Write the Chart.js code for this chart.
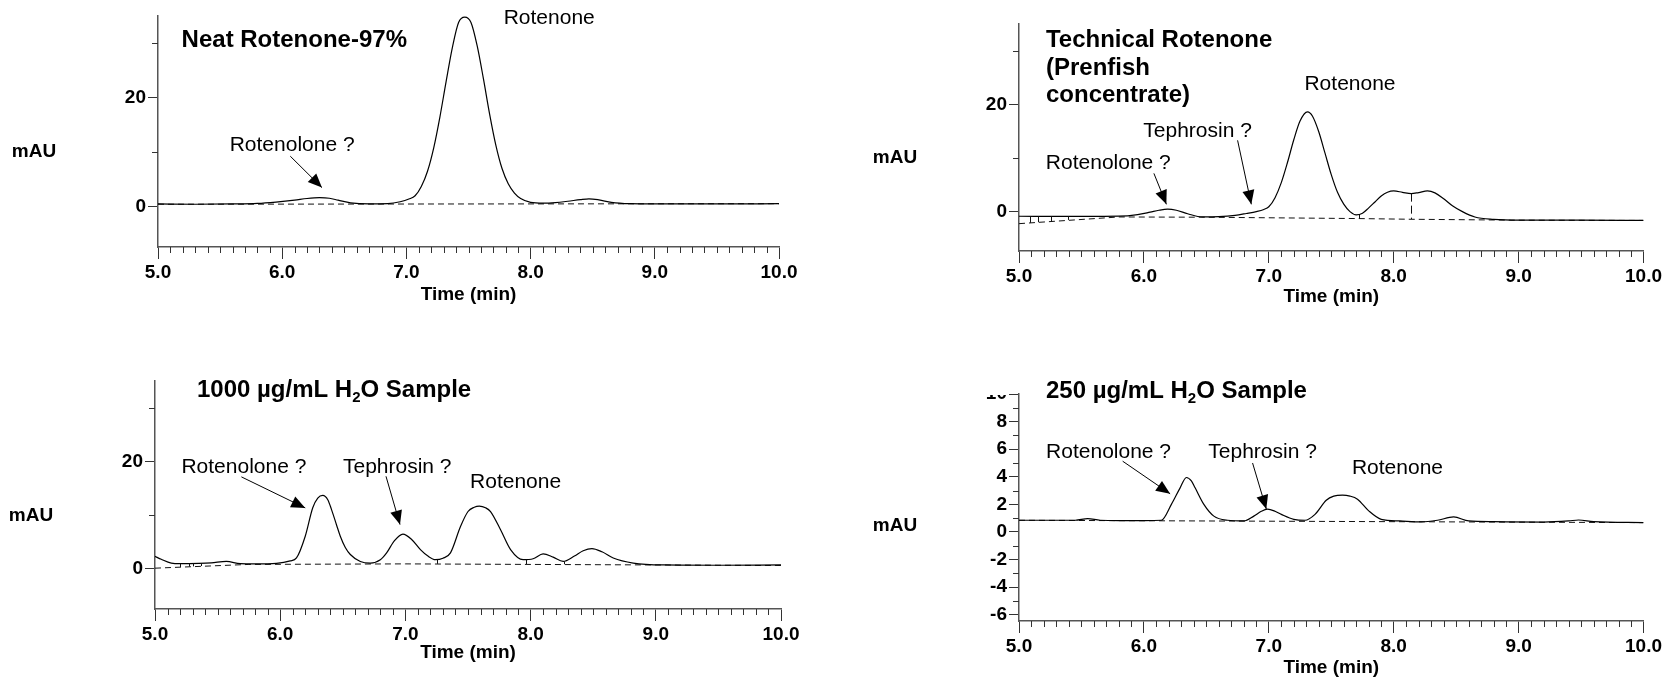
<!DOCTYPE html>
<html>
<head>
<meta charset="utf-8">
<title>Rotenone HPLC chromatograms</title>
<script src="https://cdn.jsdelivr.net/npm/chart.js@4.4.1/dist/chart.umd.min.js"></script>
<style>
  html, body { margin: 0; padding: 0; background: #fff; }
  #page { position: relative; width: 1664px; height: 678px; overflow: hidden; }
  canvas { position: absolute; }
</style>
</head>
<body>
<div id="page">
  <canvas id="neat" width="832" height="339" style="left:0;top:0"></canvas>
  <canvas id="tech" width="832" height="339" style="left:832px;top:0"></canvas>
  <canvas id="s1000" width="832" height="339" style="left:0;top:339px"></canvas>
  <canvas id="s250" width="832" height="339" style="left:832px;top:339px"></canvas>
</div>
<script>
// retention time (min) and absorbance (mAU)
const neatTime = [5.0, 5.3, 5.6, 5.8, 5.95, 6.1, 6.2, 6.3, 6.38, 6.45, 6.55, 6.7, 6.85, 6.95, 7.02, 7.07, 7.12, 7.17, 7.22, 7.27, 7.32, 7.37, 7.42, 7.47, 7.52, 7.57, 7.62, 7.67, 7.72, 7.77, 7.82, 7.87, 7.92, 8.0, 8.1, 8.2, 8.3, 8.4, 8.47, 8.55, 8.65, 8.8, 9.0, 9.5, 10.0];
const neatSignal = [0.5, 0.45, 0.5, 0.6, 0.85, 1.2, 1.5, 1.65, 1.55, 1.2, 0.7, 0.5, 0.55, 0.9, 1.4, 2.0, 3.7, 6.5, 10.8, 16.5, 23.0, 29.2, 33.8, 34.8, 33.8, 29.5, 23.5, 17.0, 11.3, 7.0, 4.2, 2.5, 1.5, 0.8, 0.65, 0.75, 1.0, 1.3, 1.45, 1.25, 0.8, 0.55, 0.5, 0.5, 0.55];
const neatBaseTime = [5.0, 10.0];
const neatBaseSignal = [0.45, 0.55];

const techTime = [5.0, 5.4, 5.8, 5.95, 6.05, 6.12, 6.19, 6.26, 6.35, 6.47, 6.6, 6.73, 6.82, 6.9, 6.96, 7.0, 7.05, 7.1, 7.15, 7.2, 7.25, 7.31, 7.35, 7.4, 7.45, 7.5, 7.55, 7.6, 7.65, 7.7, 7.75, 7.8, 7.85, 7.9, 7.95, 8.0, 8.07, 8.14, 8.2, 8.27, 8.33, 8.4, 8.47, 8.55, 8.65, 8.8, 9.0, 9.5, 10.0];
const techSignal = [-0.87, -0.9, -0.85, -0.55, -0.1, 0.25, 0.45, 0.25, -0.4, -1.0, -0.95, -0.7, -0.35, 0.0, 0.4, 0.9, 2.6, 5.4, 9.2, 13.4, 16.9, 18.6, 17.8, 14.9, 10.9, 6.9, 3.6, 1.4, 0.0, -0.6, -0.3, 0.7, 1.8, 2.9, 3.6, 3.85, 3.6, 3.35, 3.55, 3.85, 3.5, 2.4, 1.1, 0.0, -1.0, -1.45, -1.6, -1.6, -1.65];
const techBaseTime = [5.0, 5.8, 6.5, 7.72, 8.14, 9.0, 10.0];
const techBaseSignal = [-2.25, -1.0, -1.05, -1.3, -1.43, -1.6, -1.65];
const techDropTime = [5.09, 5.155, 5.255, 5.395, 7.72, 8.14];
const techDropTop = [-0.87, -0.87, -0.87, -0.87, -0.6, 3.35];
const techDropBottom = [-2.1, -1.98, -1.8, -1.55, -1.3, -1.43];

const s1000Time = [5.0, 5.05, 5.13, 5.2, 5.35, 5.45, 5.57, 5.68, 5.8, 5.97, 6.08, 6.13, 6.2, 6.26, 6.3, 6.34, 6.38, 6.41, 6.45, 6.48, 6.52, 6.56, 6.64, 6.72, 6.8, 6.85, 6.91, 6.98, 7.05, 7.12, 7.18, 7.24, 7.3, 7.36, 7.44, 7.5, 7.55, 7.59, 7.64, 7.68, 7.76, 7.84, 7.94, 8.02, 8.1, 8.18, 8.26, 8.35, 8.42, 8.49, 8.57, 8.66, 8.82, 9.06, 9.5, 10.0];
const s1000Signal = [2.35, 1.8, 1.1, 1.0, 1.05, 1.15, 1.4, 1.0, 0.95, 1.05, 1.5, 2.05, 6.1, 11.4, 13.2, 13.7, 12.9, 11.05, 8.2, 6.1, 4.0, 2.7, 1.4, 1.1, 1.73, 3.0, 5.2, 6.5, 5.5, 3.6, 2.4, 1.73, 2.0, 3.0, 7.9, 10.7, 11.5, 11.7, 11.4, 10.7, 7.3, 3.6, 1.73, 1.9, 2.8, 2.2, 1.4, 2.4, 3.4, 3.8, 3.2, 2.05, 1.1, 0.75, 0.7, 0.75];
const s1000BaseTime = [5.0, 5.75, 7.0, 10.0];
const s1000BaseSignal = [0.15, 0.85, 0.95, 0.65];
const s1000DropTime = [5.2, 5.27, 5.3, 5.37, 7.25, 7.96, 8.27];
const s1000DropTop = [1.0, 1.0, 1.05, 1.05, 1.73, 1.75, 1.4];
const s1000DropBottom = [0.35, 0.45, 0.48, 0.55, 0.95, 0.9, 0.88];

const s250Time = [5.0, 5.3, 5.45, 5.55, 5.65, 5.8, 6.0, 6.14, 6.22, 6.29, 6.34, 6.38, 6.41, 6.48, 6.56, 6.67, 6.8, 6.88, 6.94, 6.99, 7.05, 7.1, 7.2, 7.29, 7.37, 7.46, 7.52, 7.59, 7.65, 7.71, 7.8, 7.9, 8.05, 8.22, 8.35, 8.48, 8.6, 8.8, 9.2, 9.4, 9.48, 9.6, 10.0];
const s250Signal = [0.85, 0.85, 0.85, 0.97, 0.85, 0.83, 0.83, 0.85, 2.0, 3.2, 3.95, 3.7, 3.2, 2.0, 1.15, 0.85, 0.8, 1.15, 1.5, 1.65, 1.5, 1.28, 0.92, 0.85, 1.28, 2.3, 2.6, 2.67, 2.6, 2.38, 1.53, 0.92, 0.8, 0.73, 0.85, 1.09, 0.8, 0.75, 0.72, 0.8, 0.87, 0.75, 0.68];
const s250BaseTime = [5.0, 10.0];
const s250BaseSignal = [0.85, 0.68];

// axis ticks
const tallTicks = [0, 10, 20, 30];
const tallLabels = [0, 20];
const shortTicks = [-6, -5, -4, -3, -2, -1, 0, 1, 2, 3, 4, 5, 6, 7, 8, 9, 10];
const shortLabels = [-6, -4, -2, 0, 2, 4, 6, 8, 10];

// titles and peak labels
const neatTitle = ['Neat Rotenone-97%'];
const techTitle = ['Technical Rotenone', '(Prenfish', 'concentrate)'];
const s1000Title = ['1000 µg/mL H₂O Sample'];
const s250Title = ['250 µg/mL H₂O Sample'];

const neatNotes = [
  { text: 'Rotenone', at: [8.15, 34.6] },
  { text: 'Rotenolone ?', at: [6.08, 11.2], from: [6.065, 9.27], to: [6.32, 3.5] },
];
const techNotes = [
  { text: 'Rotenone', at: [7.65, 23.8] },
  { text: 'Tephrosin ?', at: [6.43, 14.95], from: [6.75, 13.3], to: [6.86, 1.36] },
  { text: 'Rotenolone ?', at: [5.715, 9.0], from: [6.08, 7.13], to: [6.18, 1.36] },
];
const s1000Notes = [
  { text: 'Rotenolone ?', at: [5.71, 19.0], from: [5.69, 17.15], to: [6.2, 11.37] },
  { text: 'Tephrosin ?', at: [6.935, 19.0], from: [6.845, 17.26], to: [6.957, 8.26] },
  { text: 'Rotenone', at: [7.88, 16.1] },
];
const s250Notes = [
  { text: 'Rotenolone ?', at: [5.717, 5.8], from: [5.83, 5.13], to: [6.21, 2.77] },
  { text: 'Tephrosin ?', at: [6.95, 5.78], from: [6.87, 5.0], to: [6.98, 1.66] },
  { text: 'Rotenone', at: [8.03, 4.6] },
];

const FONT = '"Liberation Sans", Arial, Helvetica, sans-serif';
const CANVAS_W = 832;
const CANVAS_H = 339;

const panels = [
  {
    id: 'neat', time: neatTime, signal: neatSignal, baseTime: neatBaseTime, baseSignal: neatBaseSignal,
    area: { left: 158, right: 779, top: 16, bottom: 247 },
    yMin: -7.4, yMax: 35, yTicks: tallTicks, yLabels: tallLabels,
    title: neatTitle, titleAt: [5.19, 30.6], notes: neatNotes,
    unitAt: 10, timeGap: 48,
  },
  {
    id: 'tech', time: techTime, signal: techSignal, baseTime: techBaseTime, baseSignal: techBaseSignal,
    dropTime: techDropTime, dropTop: techDropTop, dropBottom: techDropBottom, dashedDrop: 8.14,
    area: { left: 187, right: 812, top: 24, bottom: 251 },
    yMin: -7.35, yMax: 35, yTicks: tallTicks, yLabels: tallLabels,
    title: techTitle, titleAt: [5.216, 32.0], notes: techNotes,
    unitAt: 10, timeGap: 46,
  },
  {
    id: 's1000', time: s1000Time, signal: s1000Signal, baseTime: s1000BaseTime, baseSignal: s1000BaseSignal,
    dropTime: s1000DropTime, dropTop: s1000DropTop, dropBottom: s1000DropBottom,
    area: { left: 155, right: 781, top: 42, bottom: 270 },
    yMin: -7.45, yMax: 35, yTicks: tallTicks, yLabels: tallLabels,
    title: s1000Title, titleAt: [5.335, 33.2], notes: s1000Notes,
    unitAt: 10, timeGap: 44,
  },
  {
    id: 's250', time: s250Time, signal: s250Signal, baseTime: s250BaseTime, baseSignal: s250BaseSignal,
    area: { left: 187, right: 812, top: 55, bottom: 282 },
    yMin: -6.45, yMax: 10, yTicks: shortTicks, yLabels: shortLabels,
    title: s250Title, titleAt: [5.216, 10.2], notes: s250Notes,
    unitAt: 0.43, timeGap: 47, clipTopLabel: true,
  },
];

function isWhole(v) {
  return Math.abs(v - Math.round(v)) < 1e-6;
}

function drawArrow(ctx, x0, y0, x1, y1) {
  ctx.beginPath();
  ctx.moveTo(x0, y0);
  ctx.lineTo(x1, y1);
  ctx.stroke();
  const ang = Math.atan2(y1 - y0, x1 - x0);
  const L = 14, W = 6;
  const bx = x1 - L * Math.cos(ang), by = y1 - L * Math.sin(ang);
  ctx.beginPath();
  ctx.moveTo(x1, y1);
  ctx.lineTo(bx + W * Math.sin(ang), by - W * Math.cos(ang));
  ctx.lineTo(bx - W * Math.sin(ang), by + W * Math.cos(ang));
  ctx.closePath();
  ctx.fill();
}

// bold title text, with the ₂ drawn as a real subscript
function drawTitleLine(ctx, text, x, y, size) {
  const parts = text.split('₂');
  let cx = x;
  parts.forEach((part, i) => {
    ctx.font = `bold ${size}px ${FONT}`;
    ctx.fillText(part, cx, y);
    cx += ctx.measureText(part).width;
    if (i < parts.length - 1) {
      ctx.font = `bold ${Math.round(size * 0.62)}px ${FONT}`;
      ctx.fillText('2', cx, y + size * 0.3);
      cx += ctx.measureText('2').width;
    }
  });
}

function makeDecor(p) {
  return {
    id: 'decor_' + p.id,
    afterDatasetsDraw(chart) {
      const { ctx, chartArea: a, scales: { x, y } } = chart;
      ctx.save();

      // integration drop lines
      if (p.dropTime) {
        ctx.strokeStyle = '#111';
        ctx.lineWidth = 1;
        p.dropTime.forEach((t, i) => {
          const px = Math.round(x.getPixelForValue(t)) + 0.5;
          ctx.setLineDash(t === p.dashedDrop ? [8, 4] : []);
          ctx.beginPath();
          ctx.moveTo(px, y.getPixelForValue(p.dropTop[i]));
          ctx.lineTo(px, y.getPixelForValue(p.dropBottom[i]));
          ctx.stroke();
        });
        ctx.setLineDash([]);
      }

      // minor ticks
      ctx.strokeStyle = '#333';
      ctx.lineWidth = 1;
      ctx.beginPath();
      x.ticks.forEach(t => {
        if (isWhole(t.value)) return;
        const px = Math.round(x.getPixelForValue(t.value)) + 0.5;
        ctx.moveTo(px, a.bottom);
        ctx.lineTo(px, a.bottom + 6);
      });
      p.yTicks.forEach(v => {
        if (p.yLabels.includes(v)) return;
        const py = Math.round(y.getPixelForValue(v)) + 0.5;
        ctx.moveTo(a.left, py);
        ctx.lineTo(a.left - 6, py);
      });
      ctx.stroke();

      // peak labels and arrows
      ctx.fillStyle = '#000';
      ctx.strokeStyle = '#000';
      ctx.textAlign = 'center';
      ctx.textBaseline = 'middle';
      ctx.font = `21px ${FONT}`;
      p.notes.forEach(n => {
        ctx.fillText(n.text, x.getPixelForValue(n.at[0]), y.getPixelForValue(n.at[1]));
        if (n.from) {
          ctx.lineWidth = 1;
          drawArrow(ctx,
            x.getPixelForValue(n.from[0]), y.getPixelForValue(n.from[1]),
            x.getPixelForValue(n.to[0]), y.getPixelForValue(n.to[1]));
        }
      });

      // panel title
      ctx.textAlign = 'left';
      const tx = x.getPixelForValue(p.titleAt[0]);
      const ty = y.getPixelForValue(p.titleAt[1]);
      p.title.forEach((line, i) => drawTitleLine(ctx, line, tx, ty + i * 27.8, 24));

      // axis titles
      ctx.font = `bold 19px ${FONT}`;
      ctx.textAlign = 'center';
      ctx.fillText('mAU', a.left - 124, y.getPixelForValue(p.unitAt));
      ctx.fillText('Time (min)', (a.left + a.right) / 2, a.bottom + p.timeGap);

      // the top tick label of the small-scale panel is cut off in the source
      if (p.clipTopLabel) {
        ctx.fillStyle = '#fff';
        ctx.fillRect(a.left - 45, 0, 33, a.top + 1);
      }
      ctx.restore();
    },
  };
}

const tickFont = { family: FONT, size: 19, weight: 'bold' };

panels.forEach(p => {
  const curve = p.time.map((t, i) => ({ x: t, y: p.signal[i] }));
  const base = p.baseTime.map((t, i) => ({ x: t, y: p.baseSignal[i] }));
  new Chart(document.getElementById(p.id), {
    type: 'line',
    data: {
      datasets: [
        {
          data: curve,
          borderColor: '#000',
          borderWidth: 1.2,
          pointRadius: 0,
          cubicInterpolationMode: 'monotone',
          fill: false,
        },
        {
          data: base,
          borderColor: '#111',
          borderWidth: 1,
          borderDash: [6, 4],
          pointRadius: 0,
          tension: 0,
          fill: false,
        },
      ],
    },
    options: {
      responsive: false,
      animation: false,
      devicePixelRatio: 1,
      parsing: false,
      layout: { padding: { left: 0, right: CANVAS_W - p.area.right, top: p.area.top, bottom: 0 } },
      plugins: { legend: { display: false }, tooltip: { enabled: false } },
      scales: {
        x: {
          type: 'linear',
          min: 5,
          max: 10,
          ticks: {
            stepSize: 0.1,
            autoSkip: false,
            maxRotation: 0,
            padding: 2,
            color: '#000',
            font: tickFont,
            callback: v => (isWhole(v) ? v.toFixed(1) : ''),
          },
          grid: {
            drawOnChartArea: false,
            tickLength: 12,
            tickWidth: 1,
            tickColor: c => (c.tick && isWhole(c.tick.value) ? '#333' : 'rgba(0,0,0,0)'),
          },
          border: { color: '#555', width: 1.5 },
          afterFit: s => { s.height = CANVAS_H - p.area.bottom; },
        },
        y: {
          type: 'linear',
          min: p.yMin,
          max: p.yMax,
          afterBuildTicks: s => { s.ticks = p.yTicks.map(v => ({ value: v })); },
          ticks: {
            autoSkip: false,
            padding: 2,
            color: '#000',
            font: tickFont,
            callback: v => (p.yLabels.includes(v) ? String(v) : ''),
          },
          grid: {
            drawOnChartArea: false,
            tickLength: 10,
            tickWidth: 1,
            tickColor: c => (c.tick && p.yLabels.includes(c.tick.value) ? '#333' : 'rgba(0,0,0,0)'),
          },
          border: { color: '#555', width: 1.5 },
          afterFit: s => { s.width = p.area.left; },
        },
      },
    },
    plugins: [makeDecor(p)],
  });
});
</script>
</body>
</html>
